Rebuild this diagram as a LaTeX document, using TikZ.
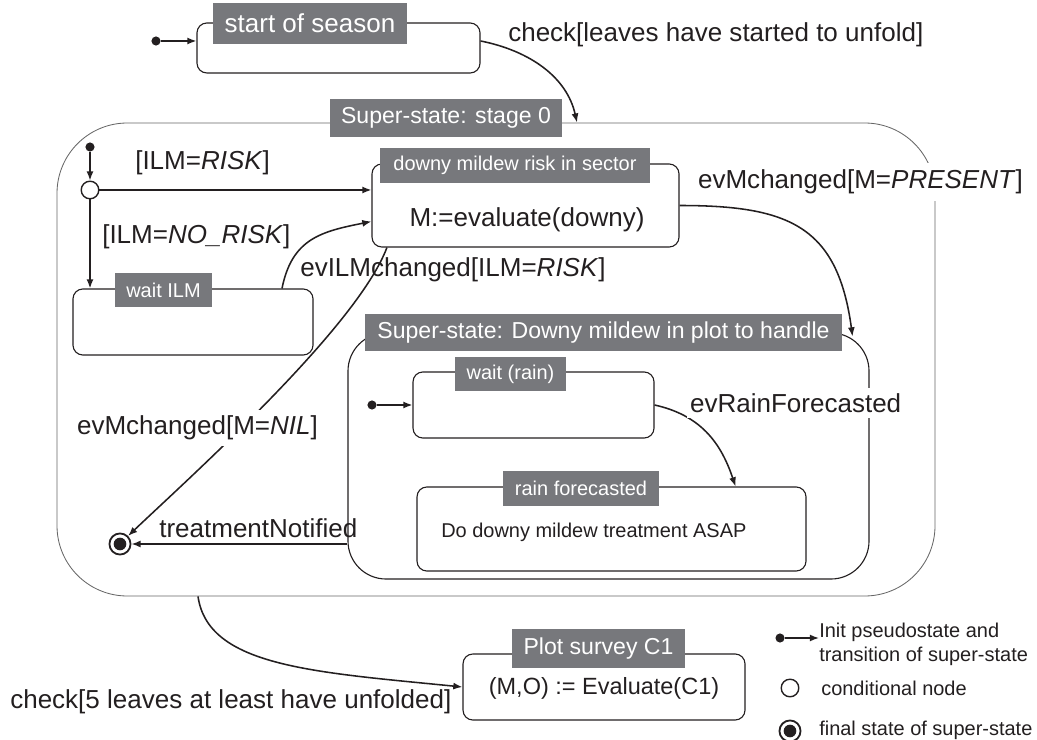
\documentclass[tikz,border=0pt]{standalone}
\usepackage{fontspec}
\setmainfont{Liberation Sans}
\usetikzlibrary{arrows.meta,fit,calc}
\definecolor{cinzatit}{RGB}{119,120,124}
\definecolor{tinta}{RGB}{35,31,32}

\begin{document}
\begin{tikzpicture}[x=0.025cm, y=-0.025cm, line join=round,
      every node/.style={text=tinta, inner sep=0pt},
      estado/.style={draw=tinta, line width=0.8pt, rounded corners=7pt},
      superestado/.style={draw=black!60, line width=0.6pt},
      titulo/.style={fill=cinzatit, text=white},
      transicao/.style={draw=tinta, line width=1.1pt, -{Latex[length=6.5pt,width=5pt]}},
      inicial/.style={circle, fill=tinta, minimum size=6.5pt},
      condicao/.style={circle, draw=tinta, line width=1pt, fill=white, minimum size=12.5pt},
      estadofinal/.style={circle, draw=tinta, line width=1.3pt, fill=white, minimum size=15pt},
      miolo/.style={circle, fill=tinta, minimum size=9pt},
      rotulo/.style={font=\fontsize{18.5}{22}\selectfont, anchor=west},
      grande/.style={font=\fontsize{16.4}{20}\selectfont},
      pequeno/.style={font=\fontsize{14.2}{17}\selectfont}]

    \useasboundingbox (0,0) rectangle (1037,740);

    % 1. Super-estados (desenhados primeiro, ficam por baixo)
    \node[superestado, rounded corners=50pt, fit={(57,123) (935,596)}] (stage0) {};
    \node[estado, rounded corners=27pt, fit={(348,333) (869,579)}] (superdowny) {};

    % 2. Estados simples
    \node[estado, fit={(197,23) (480,73)}] (season) {};
    \node[estado, fit={(372,164) (679,247)}] (downy) {};
    \node[estado, fit={(73,289) (313,355)}] (waitilm) {};
    \node[estado, fit={(413,372) (654,438)}] (waitrain) {};
    \node[estado, fit={(417,487) (806,571)}] (rainf) {};
    \node[estado, fit={(463,654) (745,720)}] (plot) {};

    % 3. Titulos cinzentos por cima das bordas
    \node[titulo, font=\fontsize{18.5}{22}\selectfont, minimum width=4.85cm, minimum height=1.025cm] (tseason) at (310,23.5) {start of season};
    \node[titulo, grande, minimum width=5.8cm, minimum height=0.95cm] (tstage0) at (446,118) {Super-state: stage 0};
    \node[titulo, pequeno, minimum width=6.75cm, minimum height=0.875cm] (tdowny) at (515,165.5) {downy mildew risk in sector};
    \node[titulo, pequeno, minimum width=2.425cm, minimum height=0.85cm] (twaitilm) at (163.5,290) {wait ILM};
    \node[titulo, grande, minimum width=11.925cm, minimum height=0.925cm] (tsuper) at (603.5,332.5) {Super-state: Downy mildew in plot to handle};
    \node[titulo, pequeno, minimum width=2.775cm, minimum height=0.85cm] (twaitrain) at (510.5,374) {wait (rain)};
    \node[titulo, pequeno, minimum width=3.9cm, minimum height=0.875cm] (trainf) at (581,488.5) {rain forecasted};
    \node[titulo, grande, minimum width=4.325cm, minimum height=0.975cm] (tplot) at (598.5,648.5) {Plot survey C1};

    % 4. Acoes dentro dos estados
    \node[rotulo, anchor=center] (acao1) at (527,220) {M:=evaluate(downy)};
    \node[rotulo, pequeno] (acao2) at (441,532) {Do downy mildew treatment ASAP};
    \node[font=\fontsize{16.7}{20}\selectfont] (acao3) at (604,688) {(M,O) := Evaluate(C1)};

    % 5. Pseudo-estados
    \node[inicial] (ini0) at (156,41) {};
    \node[inicial] (ini1) at (90,147) {};
    \node[inicial] (ini2) at (372,405) {};
    \node[condicao] (cond) at (90,190) {};
    \node[estadofinal] (fim) at (120,544) {};
    \node[miolo] (fimc) at (fim) {};

    % 6. Transicoes
    \draw[transicao] (ini0) -- (ini0 -| season.west);
    \draw[transicao] ([yshift=5pt]season.east) .. controls +(50,10) and +(-10,-45) .. ($(stage0.north)+(81,0)$);
    \node[rotulo] (lcheck) at (508,35) {check[leaves have started to unfold]};

    \draw[transicao] (ini1) -- (cond);
    \draw[transicao] (cond) -- (cond -| downy.west);
    \draw[transicao] (cond) -- (cond |- waitilm.north);
    \node[rotulo] (lrisk) at (135,163) {[ILM=\textit{RISK}]};
    \node[rotulo] (lnorisk) at (102,237) {[ILM=\textit{NO\_RISK}]};

    \draw[transicao] ($(waitilm.north)+(89,0)$) .. controls +(10,-50) and +(-50,10) .. ($(downy.west)+(0,16)$);
    \node[rotulo] (lilm) at (300,270) {evILMchanged[ILM=\textit{RISK}]};

    \draw[transicao] (downy.east) .. controls +(110,0) and +(-15,-110) .. ($(superdowny.north east)+(-17,4)$);
    \node[rotulo, fill=white, inner xsep=2pt, inner ysep=5pt] (lpresent) at (695,182) {evMchanged[M=\textit{PRESENT}]};

    \draw[transicao] ([xshift=11pt]downy.south west) .. controls +(-30,80) and +(60,-57) .. (fim.45);
    \node[rotulo, fill=white, inner xsep=2pt, inner ysep=4pt] (lnil) at (74,428) {evMchanged[M=\textit{NIL}]};

    \draw[transicao] (fim -| superdowny.west) -- (fim);
    \node[rotulo] (ltreat) at (159,528) {treatmentNotified};

    \draw[transicao] (ini2) -- (ini2 -| waitrain.west);
    \draw[transicao] (waitrain.east) .. controls +(45,10) and +(-15,-45) .. ($(rainf.north)+(124,0)$);
    \node[rotulo, fill=white, inner xsep=2pt, inner ysep=4pt] (lrain) at (687,403) {evRainForecasted};

    \draw[transicao] ($(stage0.south)+(-298,0)$) .. controls +(10,70) and +(-150,-15) .. (plot.west);
    \node[rotulo] (lcheck5) at (10,702) {check[5 leaves at least have unfolded]};

    % 7. Legenda
    \node[inicial] (ini3) at (780,638) {};
    \node[pequeno, anchor=west, align=left] (leg1) at (819,644) {Init pseudostate and\\transition of super-state};
    \draw[transicao] (ini3) -- (ini3 -| leg1.west);
    \node[condicao] (leg2c) at (790,688) {};
    \node[pequeno, anchor=west] (leg2) at (821,688) {conditional node};
    \node[estadofinal] (leg3f) at (790,731) {};
    \node[miolo] (leg3c) at (leg3f) {};
    \node[pequeno, anchor=west] (leg3) at (819,730) {final state of super-state};

\end{tikzpicture}
\end{document}
